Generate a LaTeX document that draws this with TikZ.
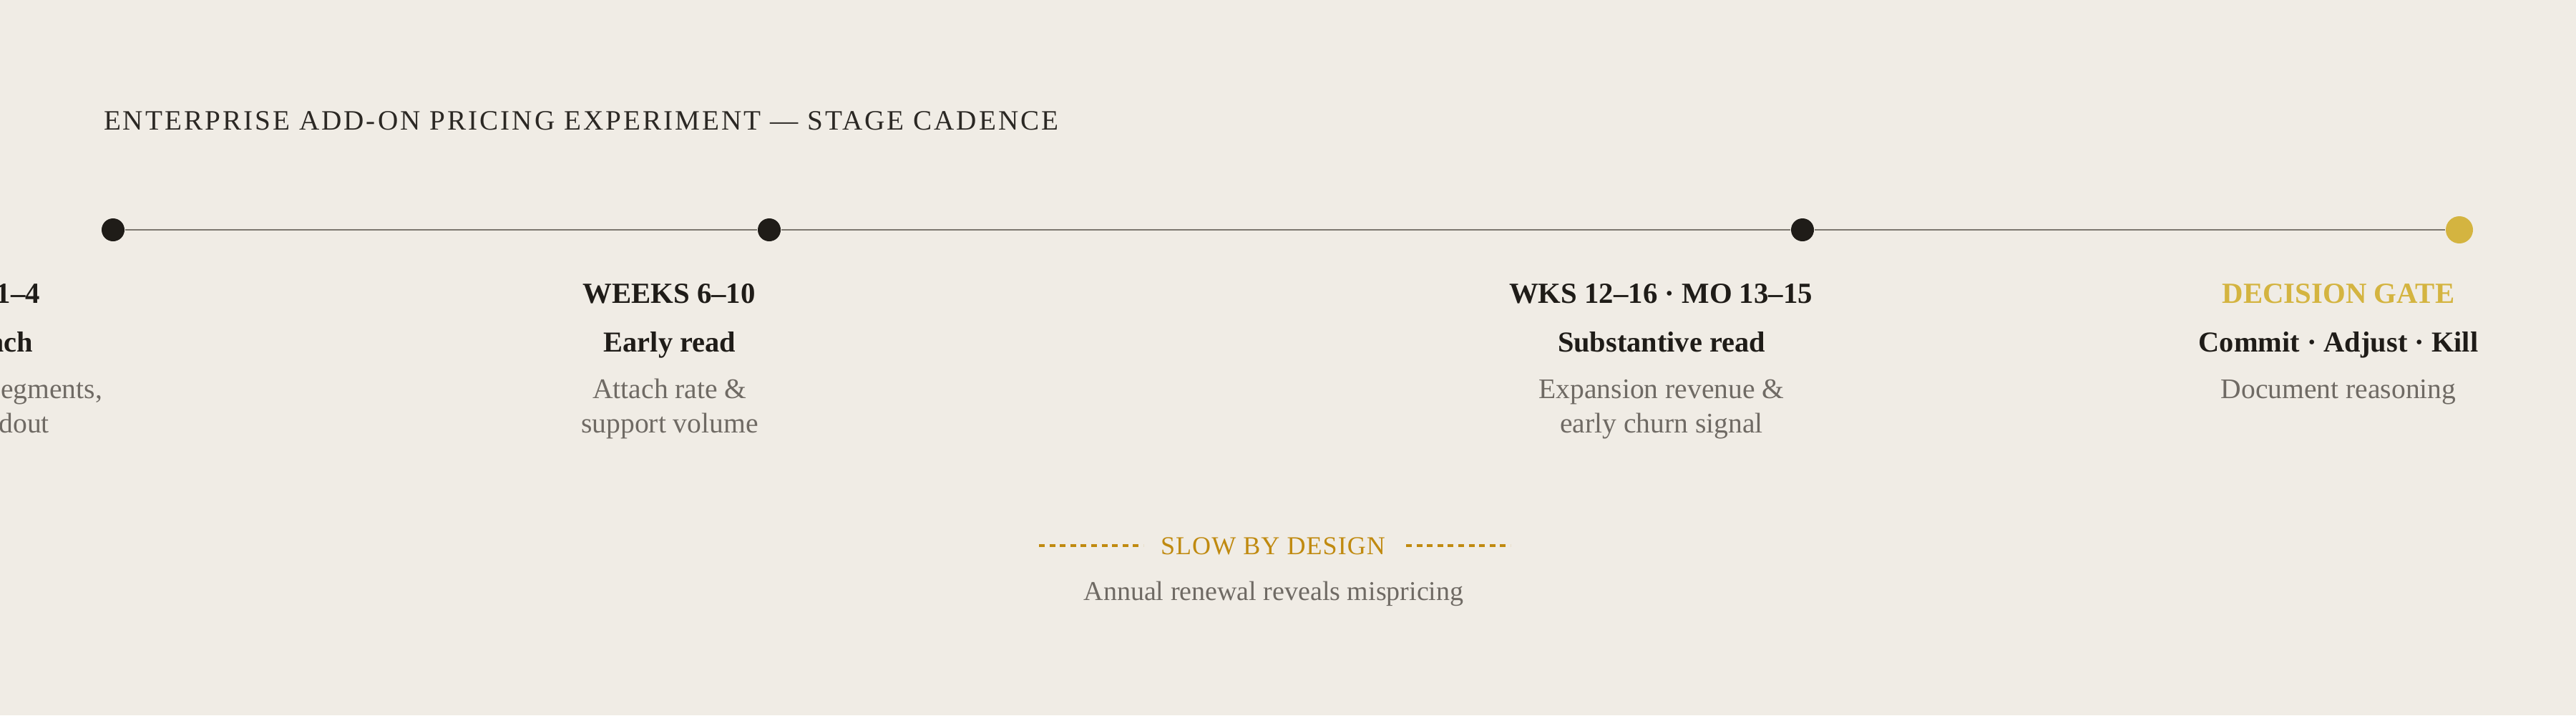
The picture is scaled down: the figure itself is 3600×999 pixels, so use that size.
\documentclass[tikz,border=0pt]{standalone}
\usepackage{fontspec}
\setmainfont{Liberation Serif}
\newfontfamily\titlefont[LetterSpace=7.7]{Liberation Serif}
\newfontfamily\slowfont[LetterSpace=3]{Liberation Serif}
\definecolor{bg}{HTML}{F0ECE5}
\definecolor{ink}{HTML}{1F1C18}
\definecolor{titleink}{HTML}{2B2824}
\definecolor{muted}{HTML}{6F6A64}
\definecolor{rail}{HTML}{7D786F}
\definecolor{gold}{HTML}{D4B440}
\definecolor{ochre}{HTML}{C08A10}
\tikzset{
  txt/.style={inner sep=0pt, outer sep=0pt, anchor=base},
  head/.style={txt, text=ink, font=\fontsize{10.2}{12}\selectfont\bfseries},
  sub/.style={txt, text=ink, font=\fontsize{10.1}{12}\selectfont\bfseries},
  desc/.style={txt, text=muted, font=\fontsize{9.9}{12}\selectfont},
  dot/.style={circle, fill=ink, draw=none, minimum size=8pt, inner sep=0pt},
  golddot/.style={circle, fill=gold, draw=none, minimum size=9.5pt, inner sep=0pt},
  railline/.style={draw=rail, line width=0.6pt},
  dashline/.style={draw=ochre, line width=0.8pt, dash pattern=on 2pt off 1.65pt}
}
\begin{document}
\begin{tikzpicture}[x=0.25pt,y=-0.25pt]
\fill[bg] (0,0) rectangle (3600,999);
\useasboundingbox (0,0) rectangle (3600,999);
% title
\node[txt, anchor=base west, text=titleink, font=\titlefont\fontsize{9.8}{12}\selectfont] (title) at (145,181) {ENTERPRISE ADD-ON PRICING EXPERIMENT — STAGE CADENCE};
% timeline
\node[dot] (d1) at (158,321) {};
\node[dot] (d2) at (1075,321) {};
\node[dot] (d3) at (2519,321) {};
\node[golddot] (d4) at (3437,321) {};
\draw[railline] (d1) -- (d2);
\draw[railline] (d2) -- (d3);
\draw[railline] (d3) -- (d4);
% column 1 (cut off at the left edge)
\node[head, anchor=base east] (h1) at (56,423) {1–4};
\node[sub, anchor=base east] (s1) at (46,491) {ach};
\node[desc, anchor=base east] (a1) at (143,556) {egments,};
\node[desc, anchor=base east] (b1) at (69,604) {dout};
% column 2
\node[head] (h2) at (935,423) {WEEKS 6–10};
\node[sub] (s2) at (936,491) {Early read};
\node[desc] (a2) at (936,556) {Attach rate \&};
\node[desc] (b2) at (936,604) {support volume};
% column 3
\node[head] (h3) at (2321,423) {WKS 12–16 · MO 13–15};
\node[sub] (s3) at (2322,491) {Substantive read};
\node[desc] (a3) at (2322,556) {Expansion revenue \&};
\node[desc] (b3) at (2322,604) {early churn signal};
% column 4
\node[head, text=gold] (h4) at (3268,423) {DECISION GATE};
\node[sub] (s4) at (3268,491) {Commit · Adjust · Kill};
\node[desc] (a4) at (3268,556) {Document reasoning};
% slow by design
\node[txt, text=ochre, font=\slowfont\fontsize{9}{12}\selectfont] (slow) at (1779,774) {SLOW BY DESIGN};
\coordinate (dl1) at (1452,762);
\coordinate (dl2) at (1598,762);
\coordinate (dr1) at (1965,762);
\coordinate (dr2) at (2111,762);
\draw[dashline] (dl1) -- (dl2);
\draw[dashline] (dr1) -- (dr2);
\node[txt, text=muted, font=\fontsize{9.5}{12}\selectfont] (ann) at (1780,838) {Annual renewal reveals mispricing};
\end{tikzpicture}
\end{document}
